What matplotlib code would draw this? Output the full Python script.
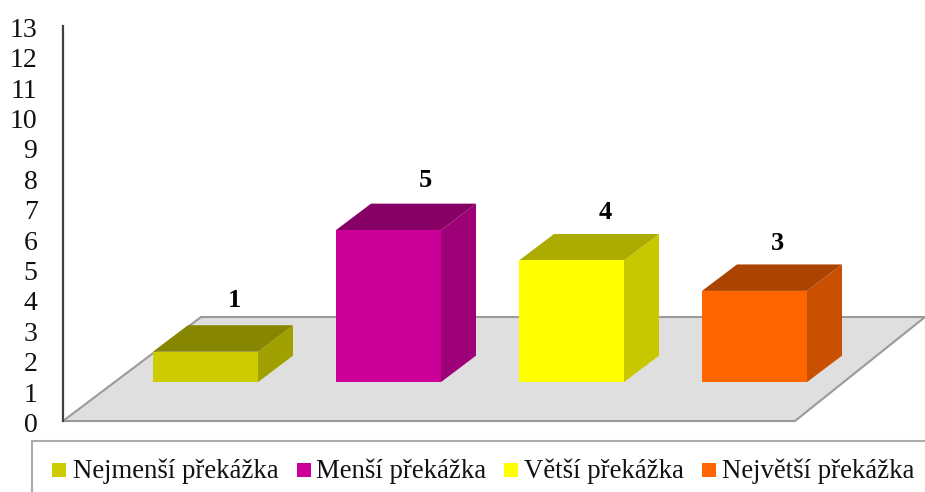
import matplotlib
matplotlib.use("Agg")
import matplotlib.pyplot as plt
from matplotlib.patches import Polygon, Rectangle
from matplotlib.transforms import ScaledTranslation

plt.rcParams['font.family'] = ['Liberation Serif', 'DejaVu Serif']

# data
categories = ['Nejmenší překážka', 'Menší překážka', 'Větší překážka', 'Největší překážka']
values = [1, 5, 4, 3]
ticks = list(range(0, 14))

# colours: front, top, side
front_cols = ['#CCCC00', '#CC0099', '#FFFF00', '#FF6600']
top_cols = ['#868600', '#870066', '#ABAB00', '#AB4400']
side_cols = ['#A0A000', '#9E0077', '#C8C800', '#C85000']

# layout, x in pixels, y in axis units
bar_left = [153, 336, 519, 702]
bar_w = 105
base = 1.28
dx = 35
dy = 0.87
label_x = [234, 425, 605, 777]
label_y = [1.68, 1.62, 1.59, 1.55]
legend_box_x = [52, 297, 504, 702]
legend_text_x = [73, 316, 524, 722]

W, H = 925, 492
fig = plt.figure(figsize=(W / 100, H / 100), dpi=100)
ax = fig.add_axes([62.5 / W, 1 - 421 / H, (W - 62.5) / W, (421 - 25.8) / H])
ax.set_xlim(62.5, W)
ax.set_ylim(0, 13)

# grey floor
ax.add_patch(Polygon([(63, 0), (795, 0), (925, 3.42), (201, 3.42)],
                     facecolor='#DFDFDF', edgecolor='#9A9A9A', lw=1.5, clip_on=False))

# bars, each made of three faces
for i, v in enumerate(values):
    x0 = bar_left[i]
    x1 = x0 + bar_w
    top = base + v
    ax.add_patch(Polygon([(x1, base), (x1 + dx, base + dy), (x1 + dx, top + dy), (x1, top)],
                         facecolor=side_cols[i], edgecolor='none', zorder=3))
    ax.add_patch(Polygon([(x0, top), (x1, top), (x1 + dx, top + dy), (x0 + dx, top + dy)],
                         facecolor=top_cols[i], edgecolor='none', zorder=3))
    ax.add_patch(Rectangle((x0, base), bar_w, v, facecolor=front_cols[i], edgecolor='none', zorder=4))
    ax.text(label_x[i], top + label_y[i], str(v), ha='center', va='center',
            fontsize=19, fontweight='bold', color='black')

# axis
ax.patch.set_visible(False)
for s in ['top', 'right', 'bottom']:
    ax.spines[s].set_visible(False)
ax.spines['left'].set_color('#404040')
ax.spines['left'].set_linewidth(1.6)
ax.set_xticks([])
ax.set_yticks(ticks)
ax.tick_params(axis='y', length=0, pad=18, labelsize=20, labelcolor='#111111')
shift = ScaledTranslation(0, -1.5 / 100, fig.dpi_scale_trans)
for lab in ax.get_yticklabels():
    lab.set_transform(lab.get_transform() + shift)

# legend
def fx(p):
    return p / W

def fy(p):
    return 1 - p / H

fig.add_artist(Rectangle((fx(32), fy(500)), fx(900), 59 / H, transform=fig.transFigure,
                         facecolor='white', edgecolor='#ABABAB', lw=1.5))
for i, name in enumerate(categories):
    fig.add_artist(Rectangle((fx(legend_box_x[i]), fy(477)), 14 / W, 14 / H, transform=fig.transFigure,
                             facecolor=front_cols[i], edgecolor='none'))
    fig.text(fx(legend_text_x[i]), fy(478), name, ha='left', va='baseline', fontsize=19.3, color='#111111')

fig.savefig('out.png', dpi=100)
